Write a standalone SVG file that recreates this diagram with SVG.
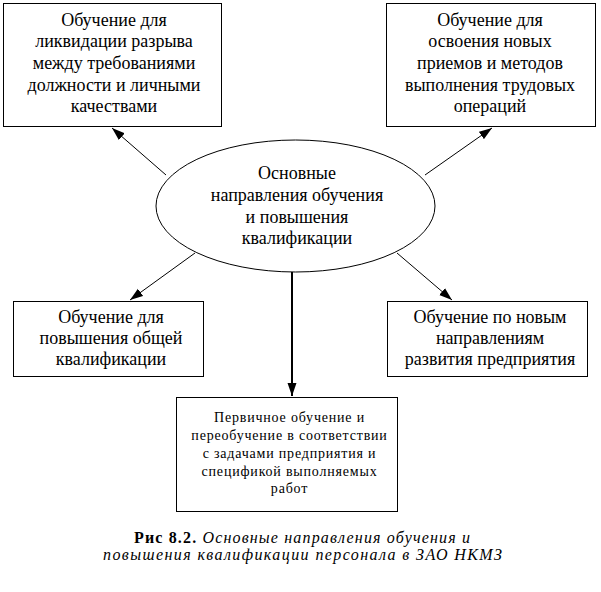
<svg xmlns="http://www.w3.org/2000/svg" width="601" height="592" viewBox="0 0 601 592">
<style>
  .box { fill: #fff; stroke: #000; stroke-width: 1; }
  .t { font-family: "Liberation Serif", "Times New Roman", serif; font-size: 18px; fill: #000; text-anchor: middle; }
  .s { font-family: "Liberation Serif", "Times New Roman", serif; font-size: 14px; fill: #000; text-anchor: middle; letter-spacing: 0.8px; }
  .cap { font-family: "Liberation Serif", "Times New Roman", serif; font-size: 16px; fill: #000; }
  .con { stroke: #000; stroke-width: 1; fill: none; }
</style>
<defs>
  <marker id="ah" markerUnits="userSpaceOnUse" markerWidth="14" markerHeight="10" refX="13" refY="5" orient="auto">
    <path d="M0,0.5 L13,5 L0,9.5 Z" fill="#000"/>
  </marker>
</defs>
<rect width="601" height="592" fill="#fff"/>

<g id="connectors">
  <line class="con" x1="166" y1="175" x2="112" y2="128" marker-end="url(#ah)"/>
  <line class="con" x1="425" y1="175" x2="492" y2="128" marker-end="url(#ah)"/>
  <line class="con" x1="195" y1="253" x2="130" y2="300" marker-end="url(#ah)"/>
  <line class="con" x1="397" y1="253" x2="452" y2="300" marker-end="url(#ah)"/>
  <line class="con" x1="292" y1="272" x2="292" y2="396" style="stroke-width:2" marker-end="url(#ah)"/>
</g>

<g id="node-top-left">
  <rect class="box" x="3.5" y="3.5" width="218" height="123"/>
  <text class="t" x="114" y="26">Обучение для</text>
  <text class="t" x="114" y="47">ликвидации разрыва</text>
  <text class="t" x="114" y="69">между требованиями</text>
  <text class="t" x="114" y="91">должности и личными</text>
  <text class="t" x="114" y="112">качествами</text>
</g>

<g id="node-top-right">
  <rect class="box" x="386.5" y="3.5" width="209" height="123"/>
  <text class="t" x="490" y="26">Обучение для</text>
  <text class="t" x="490" y="47">освоения новых</text>
  <text class="t" x="490" y="69">приемов и методов</text>
  <text class="t" x="490" y="91">выполнения трудовых</text>
  <text class="t" x="490" y="112">операций</text>
</g>

<g id="node-center">
  <ellipse cx="295.5" cy="206" rx="139.5" ry="66" fill="#fff" stroke="#000" stroke-width="1"/>
  <text class="t" x="297" y="179">Основные</text>
  <text class="t" x="297" y="201">направления обучения</text>
  <text class="t" x="297" y="223">и повышения</text>
  <text class="t" x="297" y="244">квалификации</text>
</g>

<g id="node-mid-left">
  <rect class="box" x="13.5" y="301.5" width="190" height="75"/>
  <text class="t" x="111" y="323">Обучение для</text>
  <text class="t" x="111" y="344">повышения общей</text>
  <text class="t" x="111" y="365">квалификации</text>
</g>

<g id="node-mid-right">
  <rect class="box" x="387.5" y="301.5" width="200" height="75"/>
  <text class="t" x="490" y="323">Обучение по новым</text>
  <text class="t" x="490" y="344">направлениям</text>
  <text class="t" x="490" y="365">развития предприятия</text>
</g>

<g id="node-bottom">
  <rect class="box" x="176.5" y="397.5" width="221" height="114"/>
  <text class="s" x="289.5" y="422">Первичное обучение и</text>
  <text class="s" x="289.5" y="440">переобучение в соответствии</text>
  <text class="s" x="289.5" y="458">с задачами предприятия и</text>
  <text class="s" x="289.5" y="476">спецификой выполняемых</text>
  <text class="s" x="289.5" y="493">работ</text>
</g>

<g id="caption">
  <text class="cap" x="302" y="543" text-anchor="middle" textLength="336" lengthAdjust="spacing"><tspan font-weight="bold">Рис 8.2.</tspan><tspan font-style="italic"> Основные направления обучения и</tspan></text>
  <text class="cap" x="302.5" y="560" text-anchor="middle" font-style="italic" textLength="399" lengthAdjust="spacing">повышения квалификации персонала в ЗАО НКМЗ</text>
</g>
</svg>
